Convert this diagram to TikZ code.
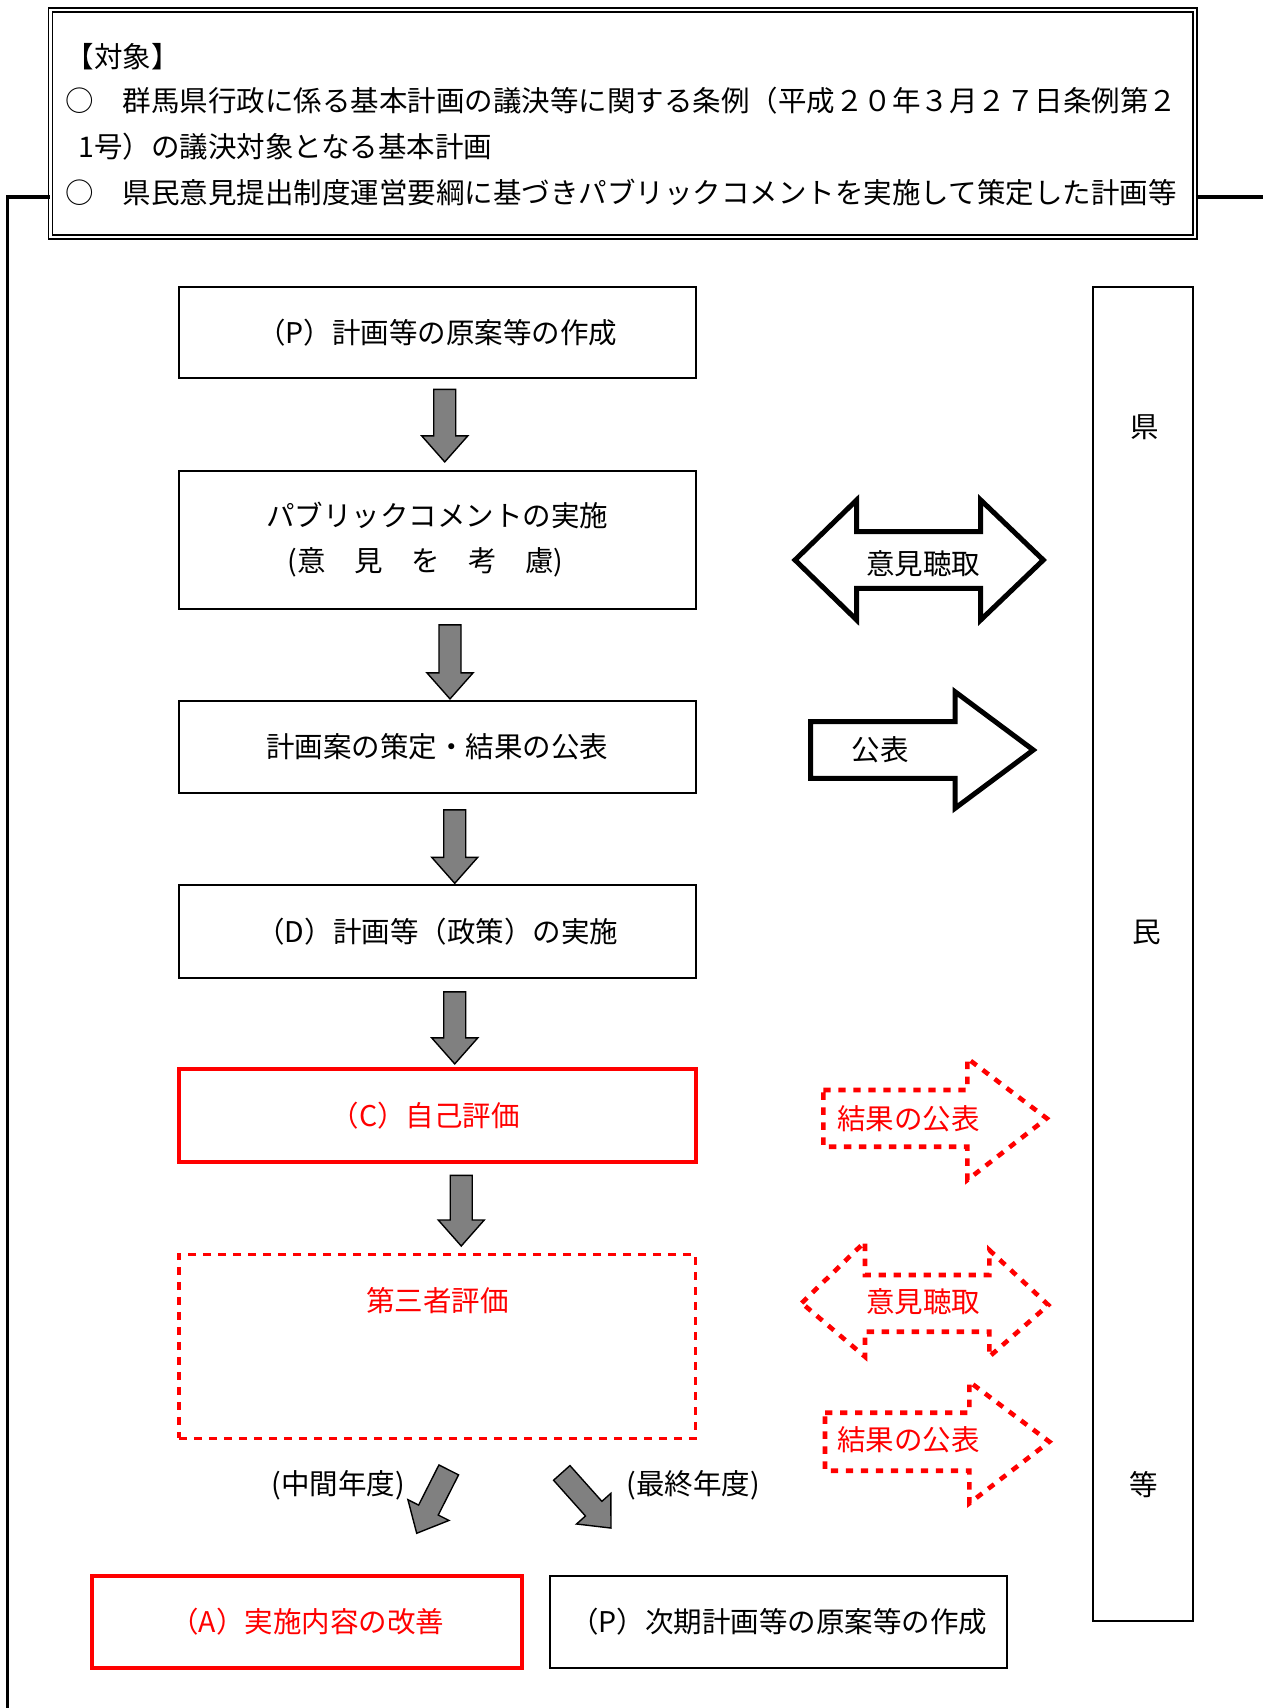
\documentclass[tikz,border=0pt]{standalone}
\usepackage{fontspec}
\setmainfont{Noto Sans CJK JP}
\usepackage{tikz}
\usetikzlibrary{positioning,calc}

\definecolor{arrowgray}{HTML}{808080}

\newcommand{\grayarrow}[2]{%
	\path #1 coordinate (ga-a) #2 coordinate (ga-b);
	\path ($(ga-b)!13pt!(ga-a)$) coordinate (ga-h);
	\draw[grayblock] ($(ga-a)!5.5pt!90:(ga-b)$) -- ($(ga-h)!5.5pt!90:(ga-b)$)
		-- ($(ga-h)!11.5pt!90:(ga-b)$) -- (ga-b) -- ($(ga-h)!11.5pt!-90:(ga-b)$)
		-- ($(ga-h)!5.5pt!-90:(ga-b)$) -- ($(ga-a)!5.5pt!-90:(ga-b)$) -- cycle;
}

\begin{document}
\begin{tikzpicture}[x=0.5pt, y=-0.5pt, font=\fontsize{14.25pt}{22.5pt}\selectfont,
	stage/.style={draw, line width=1pt, minimum width=258.25pt, minimum height=46pt, inner sep=0pt, align=center},
	redstage/.style={stage, draw=red, text=red, line width=2pt},
	redfree/.style={draw=red, line width=1.7pt, dash pattern=on 4pt off 3.5pt},
	grayblock/.style={draw, line width=0.7pt, fill=arrowgray},
	hollow/.style={draw, line width=2.5pt, miter limit=4},
	redhollow/.style={draw=red, line width=2.3pt, dash pattern=on 3.7pt off 3.8pt},
	link/.style={line width=1.8pt},
	headline/.style={inner sep=0pt, anchor=west, text height=0.88em, text depth=0.12em}]
	\useasboundingbox (0,0) rectangle (1263,1708);

	\node[draw, double, line width=0.8pt, double distance=1.2pt, minimum width=572.35pt, minimum height=113.6pt, inner sep=0pt] (frame) at (622.65,123.4) {};
	\node[headline] (t0) at (65.5,60) {【対象】};
	\node[headline] (t1) at (65.5,104) {○　群馬県行政に係る基本計画の議決等に関する条例（平成２０年３月２７日条例第２};
	\node[headline] (t2) at (78,150) {1号）の議決対象となる基本計画};
	\node[headline] (t3) at (65.5,196) {○　県民意見提出制度運営要綱に基づきパブリックコメントを実施して策定した計画等};

	\coordinate (turn) at (7.3,197);
	\coordinate (foot) at (7.3,1708);
	\coordinate (edge) at (1263,197);
	\draw[link] (frame.west |- turn) -- (turn) -- (foot);
	\draw[link] (frame.east |- edge) -- (edge);

	\node[stage, minimum height=45.8pt] (plan0) at (437.25,332.5) {（P）計画等の原案等の作成};
	\node[stage, minimum height=69pt, below=45.3pt of plan0] (pubcom) {パブリックコメントの実施\\\hspace*{-12pt}(意　見　を　考　慮)};
	\node[stage, below=45pt of pubcom] (draft) {計画案の策定・結果の公表};
	\node[stage, minimum height=46.3pt, below=45.2pt of draft] (doit) {（D）計画等（政策）の実施};
	\node[redstage, minimum height=46.5pt, below=44pt of doit] (check) {\hspace*{-12pt}（C）自己評価};
	\node[redfree, minimum width=258.25pt, minimum height=92pt, below=44.3pt of check] (third) {};
	\node[text=red] (third-t) at ($(third.north)+(0,47.7)$) {第三者評価};

	\node[redstage, minimum width=215.15pt, minimum height=46.15pt] (act) at (307.2,1621.9) {（A）実施内容の改善};
	\node[stage, minimum width=228.65pt, minimum height=46.15pt, right=12.35pt of act] (next) {（P）次期計画等の原案等の作成};

	\grayarrow{($(plan0.south)+(7.5,10)$)}{($(pubcom.north)+(7.5,-8)$)}
	\grayarrow{($(pubcom.south)+(12.75,15)$)}{($(draft.north)+(12.75,-1)$)}
	\grayarrow{($(draft.south)+(17.5,16)$)}{($(doit.north)+(17.5,-1)$)}
	\grayarrow{($(doit.south)+(17.5,13)$)}{($(check.north)+(17.5,-3)$)}
	\grayarrow{($(check.south)+(24,11.5)$)}{($(third.north)+(24,-6.5)$)}
	\grayarrow{($(third.south)+(11.5,30)$)}{($(act.north)+(109.5,-40.5)$)}
	\grayarrow{($(third.south)+(124.5,33)$)}{($(next.north)+(-167.7,-46.7)$)}
	\node (mid) at (338.3,1485) {(中間年度)};
	\node (final) at (693.3,1485) {(最終年度)};

	\node[draw, line width=1pt, minimum width=50.3pt, minimum height=667.15pt, inner sep=0pt] (people) at (1143,953.85) {};
	\node (pref) at (1145,427) {県};
	\node (citizen) at (1147,932) {民};
	\node (etc) at (1144,1485) {等};

	\draw[hollow] (795,560) -- (856.7,500) -- (856.7,531.7) -- (980.7,531.7) -- (980.7,500) -- (1043.3,560)
		-- (980.7,620) -- (980.7,588.3) -- (856.7,588.3) -- (856.7,620) -- cycle;
	\node (hear1) at (923.3,563.3) {意見聴取};
	\draw[hollow] (810.7,721.7) -- (955,721.7) -- (955,691.7) -- (1033.3,750) -- (955,808.3) -- (955,778.3)
		-- (810.7,778.3) -- cycle;
	\node (pub) at (880,750) {公表};

	\draw[redhollow] (823.3,1090) -- (967.3,1090) -- (967.3,1058.3) -- (1046.7,1118.3) -- (967.3,1180)
		-- (967.3,1146.7) -- (823.3,1146.7) -- cycle;
	\node[text=red] (res1) at (908.3,1118.3) {結果の公表};
	\draw[redhollow] (801.7,1303) -- (865,1241.7) -- (865,1275) -- (989.3,1275) -- (989.3,1250) -- (1048.3,1305)
		-- (989.3,1356.7) -- (989.3,1331.7) -- (865,1331.7) -- (865,1356.7) -- cycle;
	\node[text=red] (hear2) at (923.3,1301.7) {意見聴取};
	\draw[redhollow] (825,1412.7) -- (969.3,1412.7) -- (969.3,1381.7) -- (1049.3,1441.7) -- (969.3,1503.3)
		-- (969.3,1470.7) -- (825,1470.7) -- cycle;
	\node[text=red] (res2) at (908.3,1440) {結果の公表};
\end{tikzpicture}
\end{document}
